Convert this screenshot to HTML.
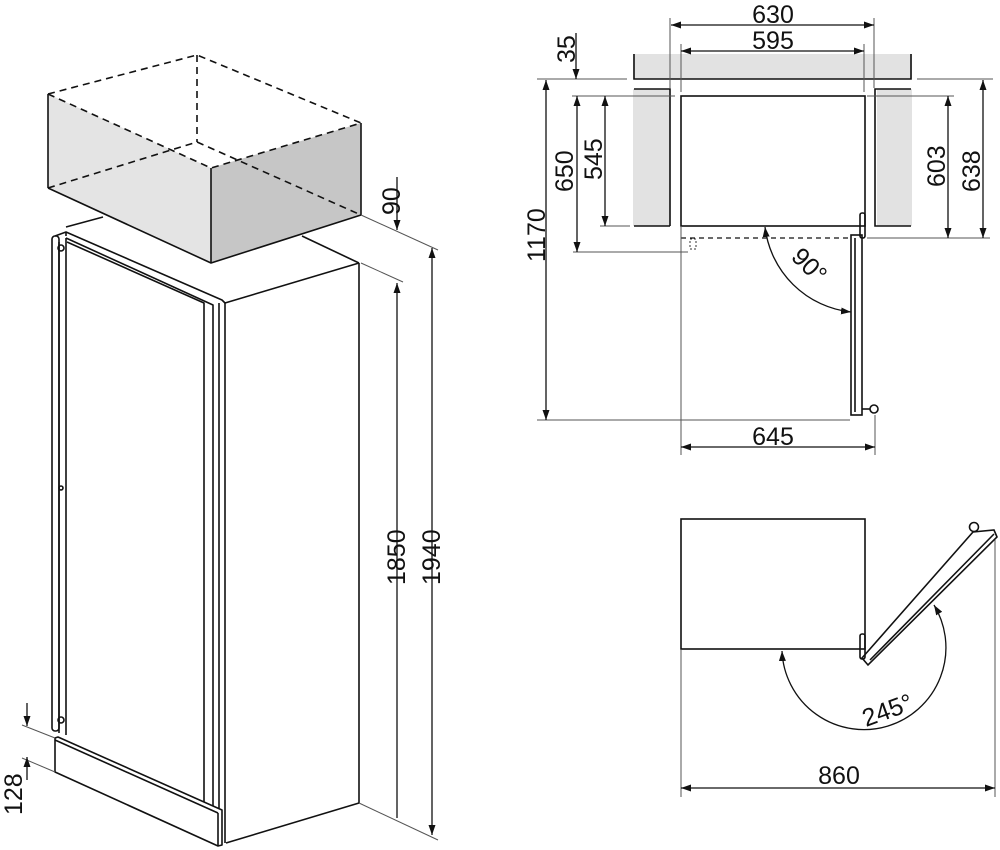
<!DOCTYPE html>
<html><head><meta charset="utf-8"><style>
html,body{margin:0;padding:0;background:#fff;}
svg{display:block;}
text{font-family:"Liberation Sans",Arial,sans-serif;font-size:25px;fill:#111;}
</style></head><body>
<svg width="1000" height="850" viewBox="0 0 1000 850" xmlns="http://www.w3.org/2000/svg">
<defs>
<marker id="a" viewBox="0 0 10 10" refX="10" refY="5" markerWidth="10" markerHeight="10" orient="auto-start-reverse" markerUnits="userSpaceOnUse">
<path d="M0,1.5 L10,5 L0,8.5 Z" fill="#111"/></marker>
</defs>
<g stroke="#111" stroke-width="1.6" fill="none" stroke-linejoin="round">
<polygon points="48,94 211,168 211,263 48,188" fill="#e4e4e4" stroke="none"/>
<polygon points="211,168 361,123 361,215 211,263" fill="#c6c6c6" stroke="none"/>
<g stroke-dasharray="7,5">
<polyline points="48,94 197,55 361,123"/>
<line x1="197" y1="55" x2="197" y2="142"/>
<polyline points="48,188 197,142 361,215"/>
<polyline points="48,94 211,168 361,123"/>
</g>
<line x1="48" y1="94" x2="48" y2="188"/>
<line x1="211" y1="168" x2="211" y2="263"/>
<line x1="361" y1="123" x2="361" y2="215"/>
<polyline points="48,188 211,263 361,215"/>
<line x1="66" y1="227" x2="103" y2="217"/>
<line x1="302" y1="236" x2="359" y2="263"/>
<line x1="225" y1="303" x2="359" y2="263"/>
<line x1="359" y1="263" x2="359" y2="803"/>
<line x1="226" y1="843" x2="359" y2="803"/>
<line x1="225" y1="303" x2="225" y2="843"/>
<polyline points="55,236 66,232 222,300 225,303"/>
<line x1="66" y1="232" x2="66" y2="236"/>
<polyline points="66,238 213,305 213,808"/>
<polyline points="67,242 204,303 204,802"/>
<line x1="66" y1="238" x2="66" y2="735"/>
<line x1="59" y1="242" x2="59" y2="733"/>
<line x1="219" y1="303" x2="219" y2="808"/>
<rect x="52" y="236" width="7" height="495" rx="3"/>
<circle cx="61" cy="248" r="3"/><circle cx="61" cy="720" r="3"/><circle cx="61" cy="488" r="2"/>
<polygon points="55,738 58,737 222,810 222,845 218,846 55,772" fill="#fff"/>
<line x1="55" y1="740" x2="218" y2="813"/>
<line x1="218" y1="813" x2="218" y2="846"/>
</g>
<g stroke="#555" stroke-width="1">
<line x1="361" y1="215" x2="438" y2="250"/>
<line x1="361" y1="263" x2="403" y2="282"/>
<line x1="359" y1="803" x2="438" y2="840"/>
<line x1="22" y1="725" x2="55" y2="738"/>
<line x1="22" y1="758" x2="55" y2="772"/>
</g>
<g stroke="#111" stroke-width="1.3">
<line x1="397" y1="177" x2="397" y2="230" marker-end="url(#a)"/>
<line x1="397" y1="818" x2="397" y2="283" marker-end="url(#a)"/>
<line x1="432" y1="248" x2="432" y2="835" marker-start="url(#a)" marker-end="url(#a)"/>
<line x1="27" y1="703" x2="27" y2="726" marker-end="url(#a)"/>
<line x1="27" y1="780" x2="27" y2="757" marker-end="url(#a)"/>
</g>
<text transform="translate(400,215) rotate(-90)">90</text>
<text transform="translate(405,585) rotate(-90)">1850</text>
<text transform="translate(440,585) rotate(-90)">1940</text>
<text transform="translate(22,815) rotate(-90)">128</text>

<g fill="#e2e2e2" stroke="none">
<rect x="633" y="54" width="279" height="25"/>
<rect x="633" y="89" width="37" height="137"/>
<rect x="877" y="89" width="35" height="137"/>
</g>
<g stroke="#111" stroke-width="1.6" fill="none">
<polyline points="634,54 634,79 911,79 911,54"/>
<polyline points="634,89 670,89 670,226"/>
<line x1="634" y1="226" x2="670" y2="226"/>
<polyline points="911,89 875,89 875,226 911,226"/>
<rect x="681" y="96" width="184" height="130"/>
<rect x="860" y="213" width="5" height="25" rx="2"/>
<rect x="851" y="235" width="11" height="180"/>
<line x1="855" y1="238" x2="855" y2="412"/>
<circle cx="874" cy="409" r="4"/>
<line x1="862" y1="409" x2="870" y2="409"/>
</g>
<line x1="681" y1="238" x2="851" y2="238" stroke="#111" stroke-width="1.3" stroke-dasharray="5,4"/>
<rect x="690" y="239" width="6" height="10" fill="none" stroke="#333" stroke-width="1" stroke-dasharray="2,2"/>
<g stroke="#555" stroke-width="1">
<line x1="670" y1="18" x2="670" y2="88"/><line x1="874" y1="18" x2="874" y2="88"/>
<line x1="681" y1="44" x2="681" y2="92"/><line x1="864" y1="44" x2="864" y2="92"/>
<line x1="537" y1="79" x2="627" y2="79"/><line x1="917" y1="79" x2="993" y2="79"/>
<line x1="572" y1="96" x2="675" y2="96"/><line x1="867" y1="96" x2="954" y2="96"/>
<line x1="600" y1="226" x2="630" y2="226"/>
<line x1="867" y1="238" x2="990" y2="238"/>
<line x1="573" y1="252" x2="688" y2="252"/>
<line x1="537" y1="420" x2="850" y2="420"/>
<line x1="681" y1="226" x2="681" y2="455"/>
<line x1="875" y1="415" x2="875" y2="455"/>
</g>
<g stroke="#111" stroke-width="1.3" fill="none">
<line x1="671" y1="25" x2="874" y2="25" marker-start="url(#a)" marker-end="url(#a)"/>
<line x1="681" y1="51" x2="864" y2="51" marker-start="url(#a)" marker-end="url(#a)"/>
<line x1="576" y1="33" x2="576" y2="79" marker-end="url(#a)"/>
<line x1="546" y1="80" x2="546" y2="420" marker-start="url(#a)" marker-end="url(#a)"/>
<line x1="577" y1="96" x2="577" y2="252" marker-start="url(#a)" marker-end="url(#a)"/>
<line x1="605" y1="96" x2="605" y2="226" marker-start="url(#a)" marker-end="url(#a)"/>
<line x1="948" y1="96" x2="948" y2="238" marker-start="url(#a)" marker-end="url(#a)"/>
<line x1="983" y1="80" x2="983" y2="238" marker-start="url(#a)" marker-end="url(#a)"/>
<line x1="681" y1="447" x2="875" y2="447" marker-start="url(#a)" marker-end="url(#a)"/>
<path d="M765,227 A97,97 0 0 0 851,312" marker-start="url(#a)" marker-end="url(#a)"/>
</g>
<text x="773" y="23" text-anchor="middle">630</text>
<text x="773" y="49" text-anchor="middle">595</text>
<text x="773" y="445" text-anchor="middle">645</text>
<text transform="translate(575,63) rotate(-90)">35</text>
<text transform="translate(545,262) rotate(-90)">1170</text>
<text transform="translate(573,192) rotate(-90)">650</text>
<text transform="translate(602,180) rotate(-90)">545</text>
<text transform="translate(945,187) rotate(-90)">603</text>
<text transform="translate(980,192) rotate(-90)">638</text>
<text transform="translate(790,258) rotate(45)">90°</text>

<g stroke="#111" stroke-width="1.6" fill="none">
<rect x="681" y="519" width="184" height="130"/>
<rect x="860" y="634" width="5" height="25" rx="2"/>
<polygon points="862,658 973,532 994,530 997,537 868,665"/>
<line x1="870" y1="660" x2="994" y2="534"/>
<circle cx="974" cy="527" r="4.5"/>
</g>
<g stroke="#555" stroke-width="1">
<line x1="681" y1="650" x2="681" y2="797"/>
<line x1="995" y1="540" x2="995" y2="797"/>
</g>
<g stroke="#111" stroke-width="1.3" fill="none">
<line x1="681" y1="788" x2="995" y2="788" marker-start="url(#a)" marker-end="url(#a)"/>
<path d="M782,651 A82,82 0 1 0 934,605" marker-start="url(#a)" marker-end="url(#a)"/>
</g>
<text x="839" y="784" text-anchor="middle">860</text>
<text transform="translate(866,727) rotate(-20)">245°</text>
</svg>
</body></html>
